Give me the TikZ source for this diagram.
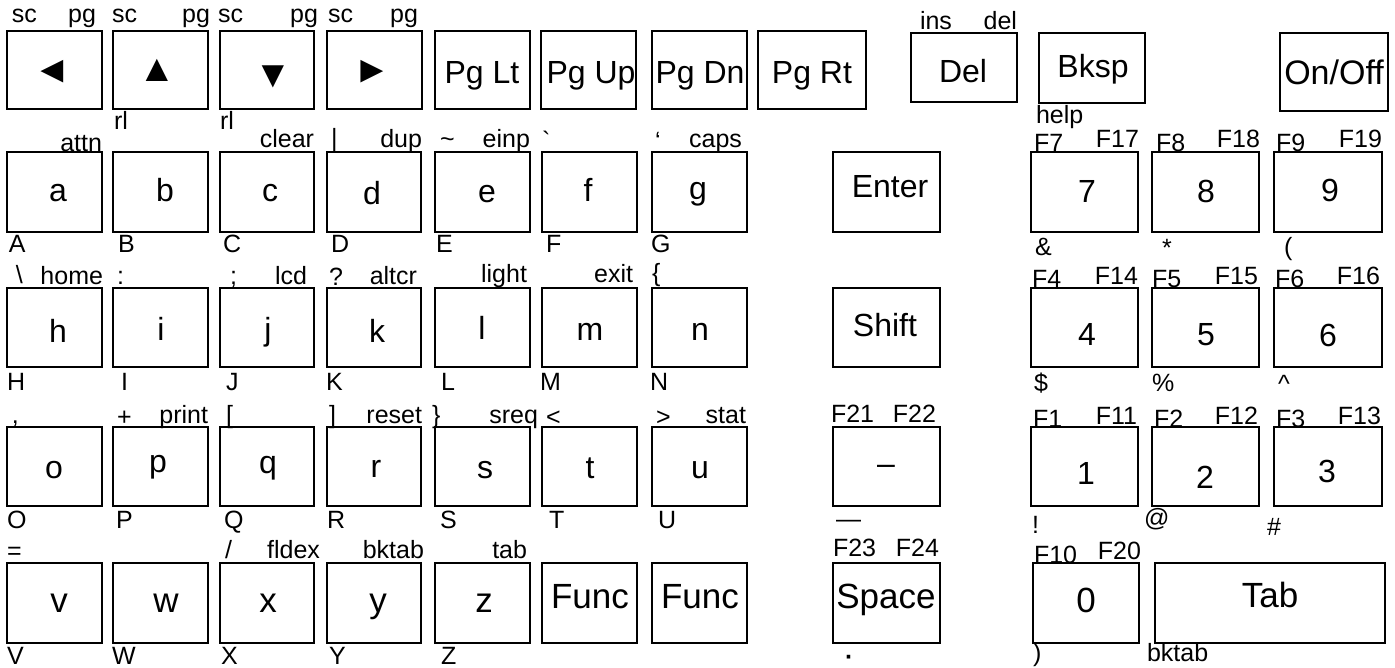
\documentclass[tikz,border=0pt]{standalone}
\usepackage{fontspec}
\setmainfont{Liberation Sans}
\usetikzlibrary{fit}
\newcommand\kb[5]{\node[keybox, fit={(#2,#3) (#4,#5)}] (#1) {};}
\begin{document}
\begin{tikzpicture}[x=1pt,y=-1pt,
 keybox/.style={draw=black, line width=1.4pt, inner sep=0pt, outer sep=0pt},
 big/.style={inner sep=0pt, outer sep=0pt, font=\fontsize{32}{38}\selectfont, anchor=base},
 bigger/.style={big, font=\fontsize{35}{40}\selectfont},
 sm/.style={inner sep=0pt, outer sep=0pt, font=\fontsize{25}{29}\selectfont},
 lt/.style={sm, anchor=base west},
 rt/.style={sm, anchor=base east},
 arr/.style={inner sep=0pt, outer sep=0pt, font=\fontsize{38}{42}\selectfont, anchor=center}]
\fill[white] (0,0) rectangle (1395,668);
\useasboundingbox (0,0) rectangle (1395,668);
% ---------- row 1
\kb{kL}{7}{31}{102}{109}
\kb{kU}{113}{31}{208}{109}
\kb{kD}{220}{31}{314}{109}
\kb{kR}{327}{31}{422}{109}
\kb{kPL}{435}{31}{530}{109}
\kb{kPU}{541}{31}{636}{109}
\kb{kPD}{652}{31}{747}{109}
\kb{kPR}{758}{31}{866}{109}
\kb{kDel}{911}{33}{1017}{102}
\kb{kBk}{1039}{33}{1145}{103}
\kb{kOn}{1280}{33}{1388}{111}
\node[arr] (tL) at (52,72) {◄};
\node[arr] (tU) at (157,70) {▲};
\node[arr] (tD) at (273,77) {▼};
\node[arr] (tR) at (372,72) {►};
\node[big] (tPL) at (482,84) {Pg Lt};
\node[big] (tPU) at (591,84) {Pg Up};
\node[big] (tPD) at (700,84) {Pg Dn};
\node[big] (tPR) at (812,84) {Pg Rt};
\node[big] (tDel) at (963,83) {Del};
\node[big] (tBk) at (1093,78) {Bksp};
\node[big, font=\fontsize{34}{40}\selectfont] (tOn) at (1334,85) {On/Off};
\node[lt] (s1) at (12,23) {sc};  \node[rt] (p1) at (96,23) {pg};
\node[lt] (s2) at (112,23) {sc}; \node[rt] (p2) at (210,23) {pg};
\node[lt] (s3) at (218,23) {sc}; \node[rt] (p3) at (318,23) {pg};
\node[lt] (s4) at (328,23) {sc}; \node[rt] (p4) at (418,23) {pg};
\node[lt] (rl1) at (114,130) {rl};
\node[lt] (rl2) at (220,130) {rl};
\node[lt] (ins) at (920,30) {ins}; \node[rt] (del) at (1017,30) {del};
\node[lt] (help) at (1036,124) {help};
% ---------- row 2
\kb{ka}{7}{152}{102}{232}
\kb{kb}{113}{152}{208}{232}
\kb{kc}{220}{152}{314}{232}
\kb{kd}{327}{152}{421}{232}
\kb{ke}{435}{152}{530}{232}
\kb{kf}{542}{152}{637}{232}
\kb{kg}{652}{152}{747}{232}
\kb{kEnter}{833}{152}{940}{232}
\kb{k7}{1031}{152}{1138}{232}
\kb{k8}{1152}{152}{1259}{232}
\kb{k9}{1274}{152}{1382}{232}
\node[big] (ta) at (58,202) {a};
\node[big] (tb) at (165,202) {b};
\node[big] (tc) at (270,202) {c};
\node[big] (td) at (372,205) {d};
\node[big] (te) at (487,203) {e};
\node[big] (tf) at (588,202) {f};
\node[big] (tg) at (698,200) {g};
\node[big] (tEnter) at (890,198) {Enter};
\node[big] (t7) at (1087,203) {7};
\node[big] (t8) at (1206,203) {8};
\node[big] (t9) at (1330,202) {9};
\node[rt] (attn) at (102,152) {attn};
\node[rt] (clear) at (314,148) {clear};
\node[lt] (bar) at (331,147) {|};
\node[rt] (dup) at (422,148) {dup};
\node[lt] (tilde) at (440,148) {\textasciitilde};
\node[rt] (einp) at (530,148) {einp};
\node[lt] (grave) at (542,150) {\textasciigrave};
\node[lt] (quote) at (655,150) {‘};
\node[rt] (caps) at (742,148) {caps};
\node[lt] (F7) at (1034,152) {F7};  \node[rt] (F17) at (1139,148) {F17};
\node[lt] (F8) at (1156,152) {F8};  \node[rt] (F18) at (1260,148) {F18};
\node[lt] (F9) at (1276,152) {F9};  \node[rt] (F19) at (1382,148) {F19};
\node[lt] (lA) at (9,253) {A};
\node[lt] (lB) at (118,253) {B};
\node[lt] (lC) at (223,253) {C};
\node[lt] (lD) at (331,253) {D};
\node[lt] (lE) at (436,253) {E};
\node[lt] (lF) at (546,253) {F};
\node[lt] (lG) at (651,253) {G};
\node[lt] (amp) at (1035,256) {\&};
\node[lt] (ast) at (1162,257) {*};
\node[lt] (lpar) at (1284,256) {(};
% ---------- row 3
\kb{kh}{7}{288}{102}{367}
\kb{ki}{113}{288}{208}{367}
\kb{kj}{220}{288}{314}{367}
\kb{kk}{327}{288}{421}{367}
\kb{kl}{435}{288}{530}{367}
\kb{km}{542}{288}{637}{367}
\kb{kn}{652}{288}{747}{367}
\kb{kShift}{833}{288}{940}{367}
\kb{k4}{1031}{288}{1138}{367}
\kb{k5}{1152}{288}{1259}{367}
\kb{k6}{1274}{288}{1382}{367}
\node[big] (th) at (58,342) {h};
\node[big] (ti) at (161,341) {i};
\node[big] (tj) at (268,341) {j};
\node[big] (tk) at (377,342) {k};
\node[big] (tl) at (482,340) {l};
\node[big] (tm) at (590,341) {m};
\node[big] (tn) at (700,341) {n};
\node[big] (tShift) at (885,337) {Shift};
\node[big] (t4) at (1087,345) {4};
\node[big] (t5) at (1206,345) {5};
\node[big] (t6) at (1328,347) {6};
\node[lt] (bsl) at (16,284) {\textbackslash};
\node[rt] (home) at (103,285) {home};
\node[lt] (colon) at (117,285) {:};
\node[lt] (semi) at (230,285) {;};
\node[rt] (lcd) at (307,285) {lcd};
\node[lt] (quest) at (329,286) {?};
\node[rt] (altcr) at (417,285) {altcr};
\node[rt] (light) at (527,283) {light};
\node[rt] (exit) at (633,283) {exit};
\node[lt] (lbrace) at (652,282) {\{};
\node[lt] (F4) at (1032,288) {F4};  \node[rt] (F14) at (1138,285) {F14};
\node[lt] (F5) at (1152,288) {F5};  \node[rt] (F15) at (1258,285) {F15};
\node[lt] (F6) at (1275,288) {F6};  \node[rt] (F16) at (1380,285) {F16};
\node[lt] (lH) at (7,390) {H};
\node[lt] (lI) at (121,390) {I};
\node[lt] (lJ) at (226,390) {J};
\node[lt] (lK) at (326,390) {K};
\node[lt] (lL) at (441,390) {L};
\node[lt] (lM) at (540,390) {M};
\node[lt] (lN) at (650,390) {N};
\node[lt] (dollar) at (1034,391) {\$};
\node[lt] (pct) at (1152,391) {\%};
\node[lt] (caret) at (1278,392) {\textasciicircum};
% ---------- row 4
\kb{ko}{7}{427}{102}{506}
\kb{kp}{113}{427}{208}{506}
\kb{kq}{220}{427}{314}{506}
\kb{kr}{327}{427}{421}{506}
\kb{ks}{435}{427}{530}{506}
\kb{kt}{542}{427}{637}{506}
\kb{ku}{652}{427}{747}{506}
\kb{kMinus}{833}{427}{940}{506}
\kb{k1}{1031}{427}{1138}{506}
\kb{k2}{1152}{427}{1259}{506}
\kb{k3}{1274}{427}{1382}{506}
\node[big] (to) at (54,478) {o};
\node[big] (tp) at (158,472) {p};
\node[big] (tq) at (268,473) {q};
\node[big] (tr) at (376,477) {r};
\node[big] (ts) at (485,478) {s};
\node[big] (tt) at (590,478) {t};
\node[big] (tu) at (700,478) {u};
\node[big] (tMinus) at (886,474) {–};
\node[big] (t1) at (1086,484) {1};
\node[big] (t2) at (1205,488) {2};
\node[big] (t3) at (1327,482) {3};
\node[lt] (comma) at (12,423) {,};
\node[lt] (plus) at (117,425) {+};
\node[rt] (print) at (208,423) {print};
\node[lt] (lbrk) at (226,423) {[};
\node[lt] (rbrk) at (329,423) {]};
\node[rt] (reset) at (422,423) {reset};
\node[lt] (rbrace) at (432,423) {\}};
\node[rt] (sreq) at (538,423) {sreq};
\node[lt] (lt) at (546,425) {<};
\node[lt] (gt) at (656,425) {>};
\node[rt] (stat) at (746,423) {stat};
\node[lt] (F21) at (831,422) {F21}; \node[rt] (F22) at (936,422) {F22};
\node[lt] (F1) at (1033,427) {F1};  \node[rt] (F11) at (1137,424) {F11};
\node[lt] (F2) at (1154,427) {F2};  \node[rt] (F12) at (1258,424) {F12};
\node[lt] (F3) at (1276,427) {F3};  \node[rt] (F13) at (1381,424) {F13};
\node[lt] (lO) at (7,528) {O};
\node[lt] (lP) at (116,528) {P};
\node[lt] (lQ) at (224,528) {Q};
\node[lt] (lR) at (327,528) {R};
\node[lt] (lS) at (440,528) {S};
\node[lt] (lT) at (549,528) {T};
\node[lt] (lU) at (658,528) {U};
\node[lt] (emd) at (836,527) {—};
\node[lt] (excl) at (1032,533) {!};
\node[lt] (at) at (1144,526) {@};
\node[lt] (hash) at (1267,535) {\#};
% ---------- row 5
\kb{kv}{7}{563}{102}{643}
\kb{kw}{113}{563}{208}{643}
\kb{kx}{220}{563}{314}{643}
\kb{ky}{327}{563}{421}{643}
\kb{kz}{435}{563}{530}{643}
\kb{kF1}{542}{563}{637}{643}
\kb{kF2}{652}{563}{747}{643}
\kb{kSpace}{833}{563}{940}{643}
\kb{k0}{1033}{563}{1139}{643}
\kb{kTab}{1155}{563}{1385}{643}
\node[bigger] (tv) at (59,612) {v};
\node[bigger] (tw) at (166,612) {w};
\node[bigger] (tx) at (268,612) {x};
\node[bigger] (ty) at (378,612) {y};
\node[bigger] (tz) at (484,612) {z};
\node[bigger] (tF1) at (590,608) {Func};
\node[bigger] (tF2) at (700,608) {Func};
\node[bigger] (tSpace) at (886,608) {Space};
\node[bigger] (t0) at (1086,612) {0};
\node[bigger] (tTab) at (1270,607) {Tab};
\node[lt] (eq) at (7,559) {=};
\node[lt] (slash) at (225,558) {/};
\node[rt] (fldex) at (320,558) {fldex};
\node[rt] (bktab1) at (424,558) {bktab};
\node[rt] (tab) at (527,558) {tab};
\node[lt] (F23) at (833,556) {F23}; \node[rt] (F24) at (939,556) {F24};
\node[lt] (F10) at (1034,563) {F10}; \node[rt] (F20) at (1141,559) {F20};
\node[lt] (lV) at (7,664) {V};
\node[lt] (lW) at (112,664) {W};
\node[lt] (lX) at (221,664) {X};
\node[lt] (lY) at (329,664) {Y};
\node[lt] (lZ) at (441,664) {Z};
\node[lt, font=\bfseries\fontsize{25}{29}\selectfont] (dot) at (845,665) {·};
\node[lt] (rpar) at (1033,661) {)};
\node[lt] (bktab2) at (1147,661) {bktab};
\end{tikzpicture}
\end{document}
